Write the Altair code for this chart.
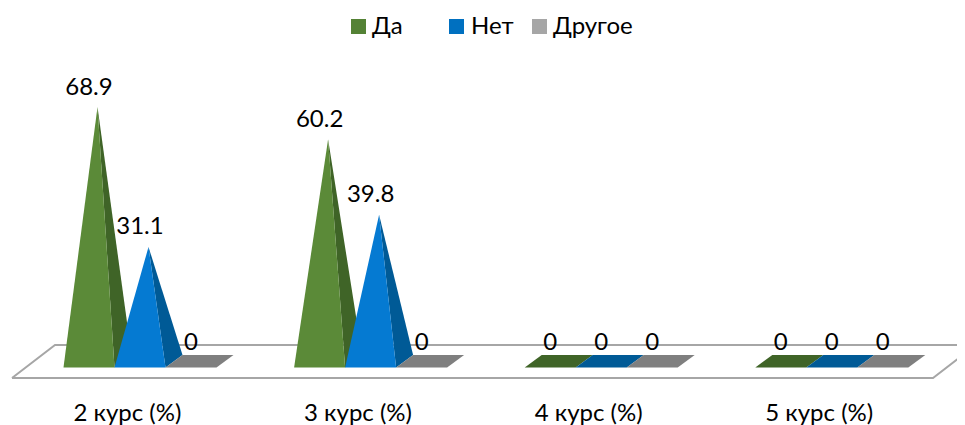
import json
import altair as alt
import pandas as pd

categories = ["2 курс (%)", "3 курс (%)", "4 курс (%)", "5 курс (%)"]
series = ["Да", "Нет", "Другое"]
values = {
    "Да": [68.9, 60.2, 0, 0],
    "Нет": [31.1, 39.8, 0, 0],
    "Другое": [0, 0, 0, 0],
}
front_colors = {"Да": "#5b8a38", "Нет": "#057ad2", "Другое": "#a6a6a6"}
side_colors = {"Да": "#3f6427", "Нет": "#005a96", "Другое": "#7f7f7f"}
legend_colors = {"Да": "#548235", "Нет": "#0070c0", "Другое": "#a6a6a6"}

FONT = "Lato"
FS = 24
PX_PER_CAT = 230.6
PX_PER_VAL = 3.7
X0_PX, Y0_PX = 63.5, 362.0
LEFT, TOP, RIGHT, BOTTOM = 8, 8, 957, 395
TOTAL_H = 417


def ux(px):
    return (px - X0_PX) / PX_PER_CAT


def uy(py):
    return (Y0_PX - py) / PX_PER_VAL


BAR_W = 51.0 / PX_PER_CAT
DX = 17.0 / PX_PER_CAT
FRONT = uy(367.5)
BACK = uy(355.0)

x_scale = alt.Scale(domain=[ux(LEFT), ux(RIGHT)], range=[0, RIGHT - LEFT], nice=False, zero=False)
y_scale = alt.Scale(domain=[uy(BOTTOM), uy(TOP)], range=[BOTTOM - TOP, 0], nice=False, zero=False)

rows, labels = [], []
pid = 0
for c, cat in enumerate(categories):
    for s, name in enumerate(series):
        v = values[name][c]
        l = c + s * BAR_W
        r = l + BAR_W
        labels.append({"x": l + BAR_W / 2, "y": v, "t": f"{v:g}"})
        if v == 0:
            pts = [(l, FRONT, FRONT), (l + DX, BACK, FRONT), (r, BACK, FRONT), (r + DX, BACK, BACK)]
            for p in pts:
                rows.append({"id": pid, "x": p[0], "top": p[1], "bot": p[2], "col": side_colors[name]})
            pid += 1
            continue
        ax = (l + r + DX) / 2
        t = (r - ax) / (r + DX - ax)
        mid = v + (BACK - v) * t
        for p in [(ax, v, v), (r, mid, FRONT), (r + DX, BACK, BACK)]:
            rows.append({"id": pid, "x": p[0], "top": p[1], "bot": p[2], "col": side_colors[name]})
        pid += 1
        for p in [(l, FRONT, FRONT), (ax, v, FRONT), (r, FRONT, FRONT)]:
            rows.append({"id": pid, "x": p[0], "top": p[1], "bot": p[2], "col": front_colors[name]})
        pid += 1

poly = pd.DataFrame(rows)
floor = pd.DataFrame({
    "x": [ux(12), ux(55), ux(976), ux(933), ux(12)],
    "y": [uy(378), uy(345), uy(345), uy(378), uy(378)],
    "o": [0, 1, 2, 3, 4],
})
ticks = [c + 0.275 for c in range(len(categories))]
label_expr = f"{json.dumps(categories, ensure_ascii=False)}[round(datum.value - 0.275)]"

x_enc = alt.X(
    "x:Q", scale=x_scale,
    axis=alt.Axis(values=ticks, labelExpr=label_expr, title=None, domain=False, ticks=False, grid=False,
                  labelFont=FONT, labelFontSize=FS, labelColor="#000000", labelPadding=6, labelFlush=False,
                  labelOverlap=False),
)
y_enc = alt.Y("y:Q", scale=y_scale, axis=None)

floor_layer = alt.Chart(floor).mark_line(color="#a6a6a6", strokeWidth=2, clip=True).encode(
    x=x_enc, y=y_enc, order="o:Q")
poly_layer = alt.Chart(poly).mark_area(clip=True).encode(
    x=x_enc,
    y=alt.Y("top:Q", scale=y_scale, axis=None, stack=None),
    y2=alt.Y2("bot:Q"),
    detail="id:N",
    fill=alt.Fill("col:N", scale=None),
)
text_layer = alt.Chart(pd.DataFrame(labels)).mark_text(
    font=FONT, fontSize=FS, color="#000000", dy=-19.5, baseline="middle"
).encode(x=x_enc, y=y_enc, text="t:N")

layers = [floor_layer, poly_layer, text_layer]
legend_sq = [358.5, 456.5, 539.5]
legend_tx = [372, 471, 553]
for name, sq, tx in zip(series, legend_sq, legend_tx):
    d = pd.DataFrame({"s": [name]})
    layers.append(alt.Chart(d).mark_square(size=225, opacity=1, color=legend_colors[name]).encode(
        x=alt.value(sq - LEFT), y=alt.value(26.5 - TOP)))
    layers.append(alt.Chart(d).mark_text(font=FONT, fontSize=FS, align="left", baseline="middle", color="#000000").encode(
        x=alt.value(tx - LEFT), y=alt.value(26.5 - TOP), text="s:N"))

chart = alt.layer(*layers).properties(
    width=RIGHT - LEFT, height=BOTTOM - TOP,
    padding={"left": 0, "top": 0, "right": 0, "bottom": TOTAL_H - (BOTTOM - TOP)},
    autosize=alt.AutoSizeParams(type="none"),
).configure_view(stroke=None)

chart.save("out.html", embed_options={"renderer": "svg", "actions": False})
